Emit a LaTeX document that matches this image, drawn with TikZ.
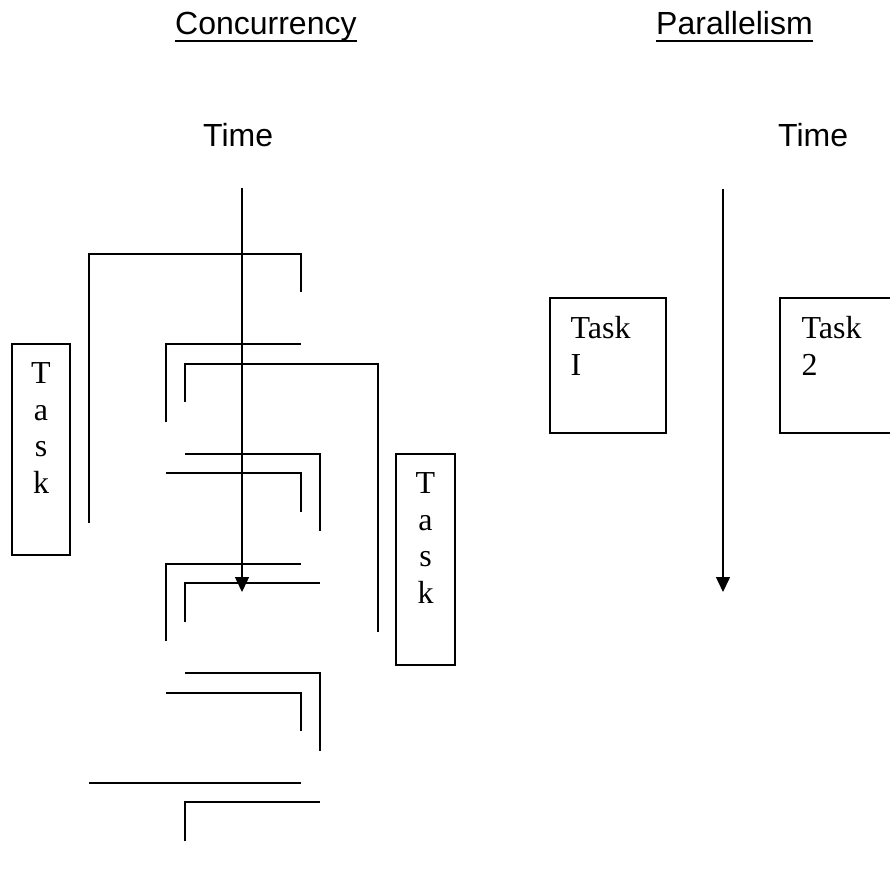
\documentclass[tikz,border=0pt]{standalone}
\usepackage{fontspec}
\setmainfont{Liberation Serif}
\setsansfont{Liberation Sans}
\usepackage{tikz}
\usetikzlibrary{arrows.meta,positioning}
\tikzset{
  heading/.style={font=\sffamily\fontsize{32}{37}\selectfont, inner sep=0pt},
  taskbox/.style={rectangle, draw, line width=1.4pt,
    minimum width=#1, minimum height=211pt, inner sep=0pt},
  taskbox/.default=58pt,
  blockbox/.style={rectangle, draw, line width=1.4pt,
    minimum width=116pt, minimum height=135pt, inner sep=0pt},
  tasktext/.style={font=\fontsize{32}{36.7}\selectfont, inner sep=0pt, align=#1},
  tasktext/.default=center,
  timearrow/.style={-{Triangle[length=15pt,width=14pt]}, line width=1.5pt},
  slice/.style={line width=1.5pt},
  uline/.style={line width=2.4pt},
}
\begin{document}
\begin{tikzpicture}[x=1pt, y=-1pt]
  \useasboundingbox (0,0) rectangle (889,891);
  % headings
  \node[heading, anchor=base west] (hconc) at (175,35) {Concurrency};
  \node[heading, anchor=base west] (hpar) at (656,35) {Parallelism};
  \draw[uline] ([yshift=-6pt]hconc.base west) -- ([yshift=-6pt]hconc.base east);
  \draw[uline] ([yshift=-6pt]hpar.base west) -- ([yshift=-6pt]hpar.base east);
  \node[heading, anchor=base west] (ctime) at (203,146) {Time};
  \node[heading, anchor=base west] (ptime) at (778,146) {Time};

  % concurrency
  \coordinate (ctop) at (242,188);
  \coordinate (cend) at (242,592);
  \draw[slice] (89,523) |- (301,254) -- (301,292);
  \draw[slice] (166,422) |- (301,344);
  \draw[slice] (185,402) |- (378,364) -- (378,632);
  \draw[slice] (185,454) -| (320,531);
  \draw[slice] (166,473) -| (301,512);
  \draw[slice] (166,641) |- (301,564);
  \draw[slice] (185,622) |- (320,583);
  \draw[slice] (185,673) -| (320,751);
  \draw[slice] (166,693) -| (301,731);
  \draw[slice] (89,783) -- (301,783);
  \draw[slice] (185,841) |- (320,802);
  \draw[timearrow] (ctop) -- (cend);
  \node[taskbox] (task1) at (41,449.5) {};
  \node[tasktext, anchor=north] (task1txt) at ([yshift=-19pt]task1.north) {T\\a\\s\\k};
  \node[taskbox=59pt] (task2) at (425.5,559.5) {};
  \node[tasktext, anchor=north] (task2txt) at ([yshift=-19pt]task2.north) {T\\a\\s\\k};

  % parallelism
  \coordinate (ptop) at (723,189);
  \coordinate (pend) at (723,592);
  \draw[timearrow] (ptop) -- (pend);
  \node[blockbox] (blk1) at (608,365.5) {};
  \node[tasktext=left, anchor=north west] (blk1txt) at ([xshift=21pt, yshift=-19pt]blk1.north west) {Task\\I};
  \node[blockbox] (blk2) at (838,365.5) {};
  \node[tasktext=left, anchor=north west] (blk2txt) at ([xshift=22pt, yshift=-19pt]blk2.north west) {Task\\2};
\end{tikzpicture}
\end{document}
